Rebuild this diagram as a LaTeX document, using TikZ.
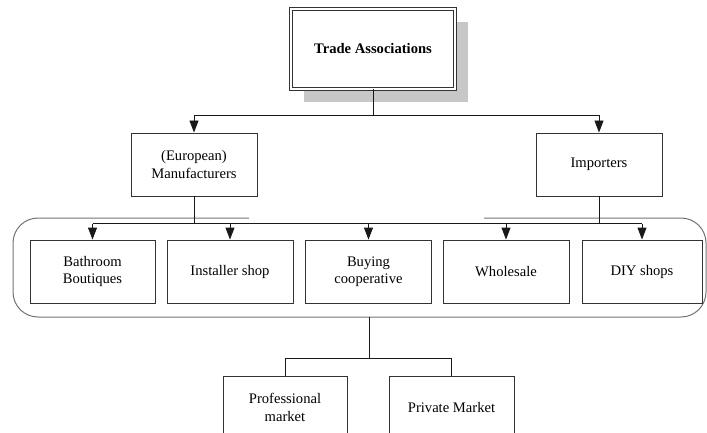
\documentclass[tikz,border=0pt]{standalone}
\usepackage{fontspec}
\setmainfont{Liberation Serif}
\usetikzlibrary{arrows.meta, shadows}

\begin{document}
\begin{tikzpicture}[x=1pt, y=-1pt,
        box/.style={draw=black!80, line width=0.9pt, fill=white, minimum width=126pt, minimum height=63pt,
            align=center, inner sep=0pt, font=\fontsize{14.6}{17.5}\selectfont},
        link/.style={draw=black!90, line width=0.9pt},
        groupline/.style={draw=black!55, line width=1pt},
        >={Triangle[width=9pt, length=12pt]}]
        \useasboundingbox (0, 0) rectangle (707, 433);

        \node[box, double, double distance=2.2pt, line width=0.8pt, minimum width=164pt, minimum height=80pt,
            font=\fontsize{14.6}{17.5}\selectfont\bfseries,
            drop shadow={shadow xshift=13pt, shadow yshift=-13pt, fill=black!22, opacity=1}] (ta) at (373, 49) {Trade Associations};
        \node[box] (manu) at (194, 164.5) {(European)\\Manufacturers};
        \node[box] (imp) at (599, 164.5) {Importers};

        \draw[link] (ta.south) -- ++(0, 26) coordinate (split1);
        \draw[link, ->] (split1) -| (manu.north);
        \draw[link, ->] (split1) -| (imp.north);

        \draw[groupline, rounded corners=25pt] (249, 218) -| (13, 317) -| (706, 218) -- (484, 218);

        \foreach \name/\x/\w/\txt in {bath/92.5/125/{Bathroom\\Boutiques}, inst/230/126/{Installer shop},
                buy/368.5/126/{Buying\\cooperative}, whole/506/126/{Wholesale}, diy/642/120/{DIY shops}} {
            \node[box, minimum width=\w pt] (\name) at (\x, 271.5) {\txt};
        }

        \path (bath.north) ++(0, -16) coordinate (railL);
        \draw[link] (manu.south) -- (manu.south |- railL);
        \draw[link] (imp.south) -- (imp.south |- railL);
        \draw[link] (railL) -- (railL -| diy.north);
        \foreach \name in {bath, inst, buy, whole, diy} {
            \draw[link, ->] (\name.north |- railL) -- (\name.north);
        }

        \node[box, minimum width=124pt] (prof) at (285, 407.5) {Professional\\market};
        \node[box, minimum width=125pt] (priv) at (451.5, 407.5) {Private Market};

        \coordinate (grp) at (369, 317);
        \draw[link] (grp) -- ++(0, 41) coordinate (split2);
        \draw[link] (split2) -| (prof.north);
        \draw[link] (split2) -| (priv.north);
\end{tikzpicture}
\end{document}
